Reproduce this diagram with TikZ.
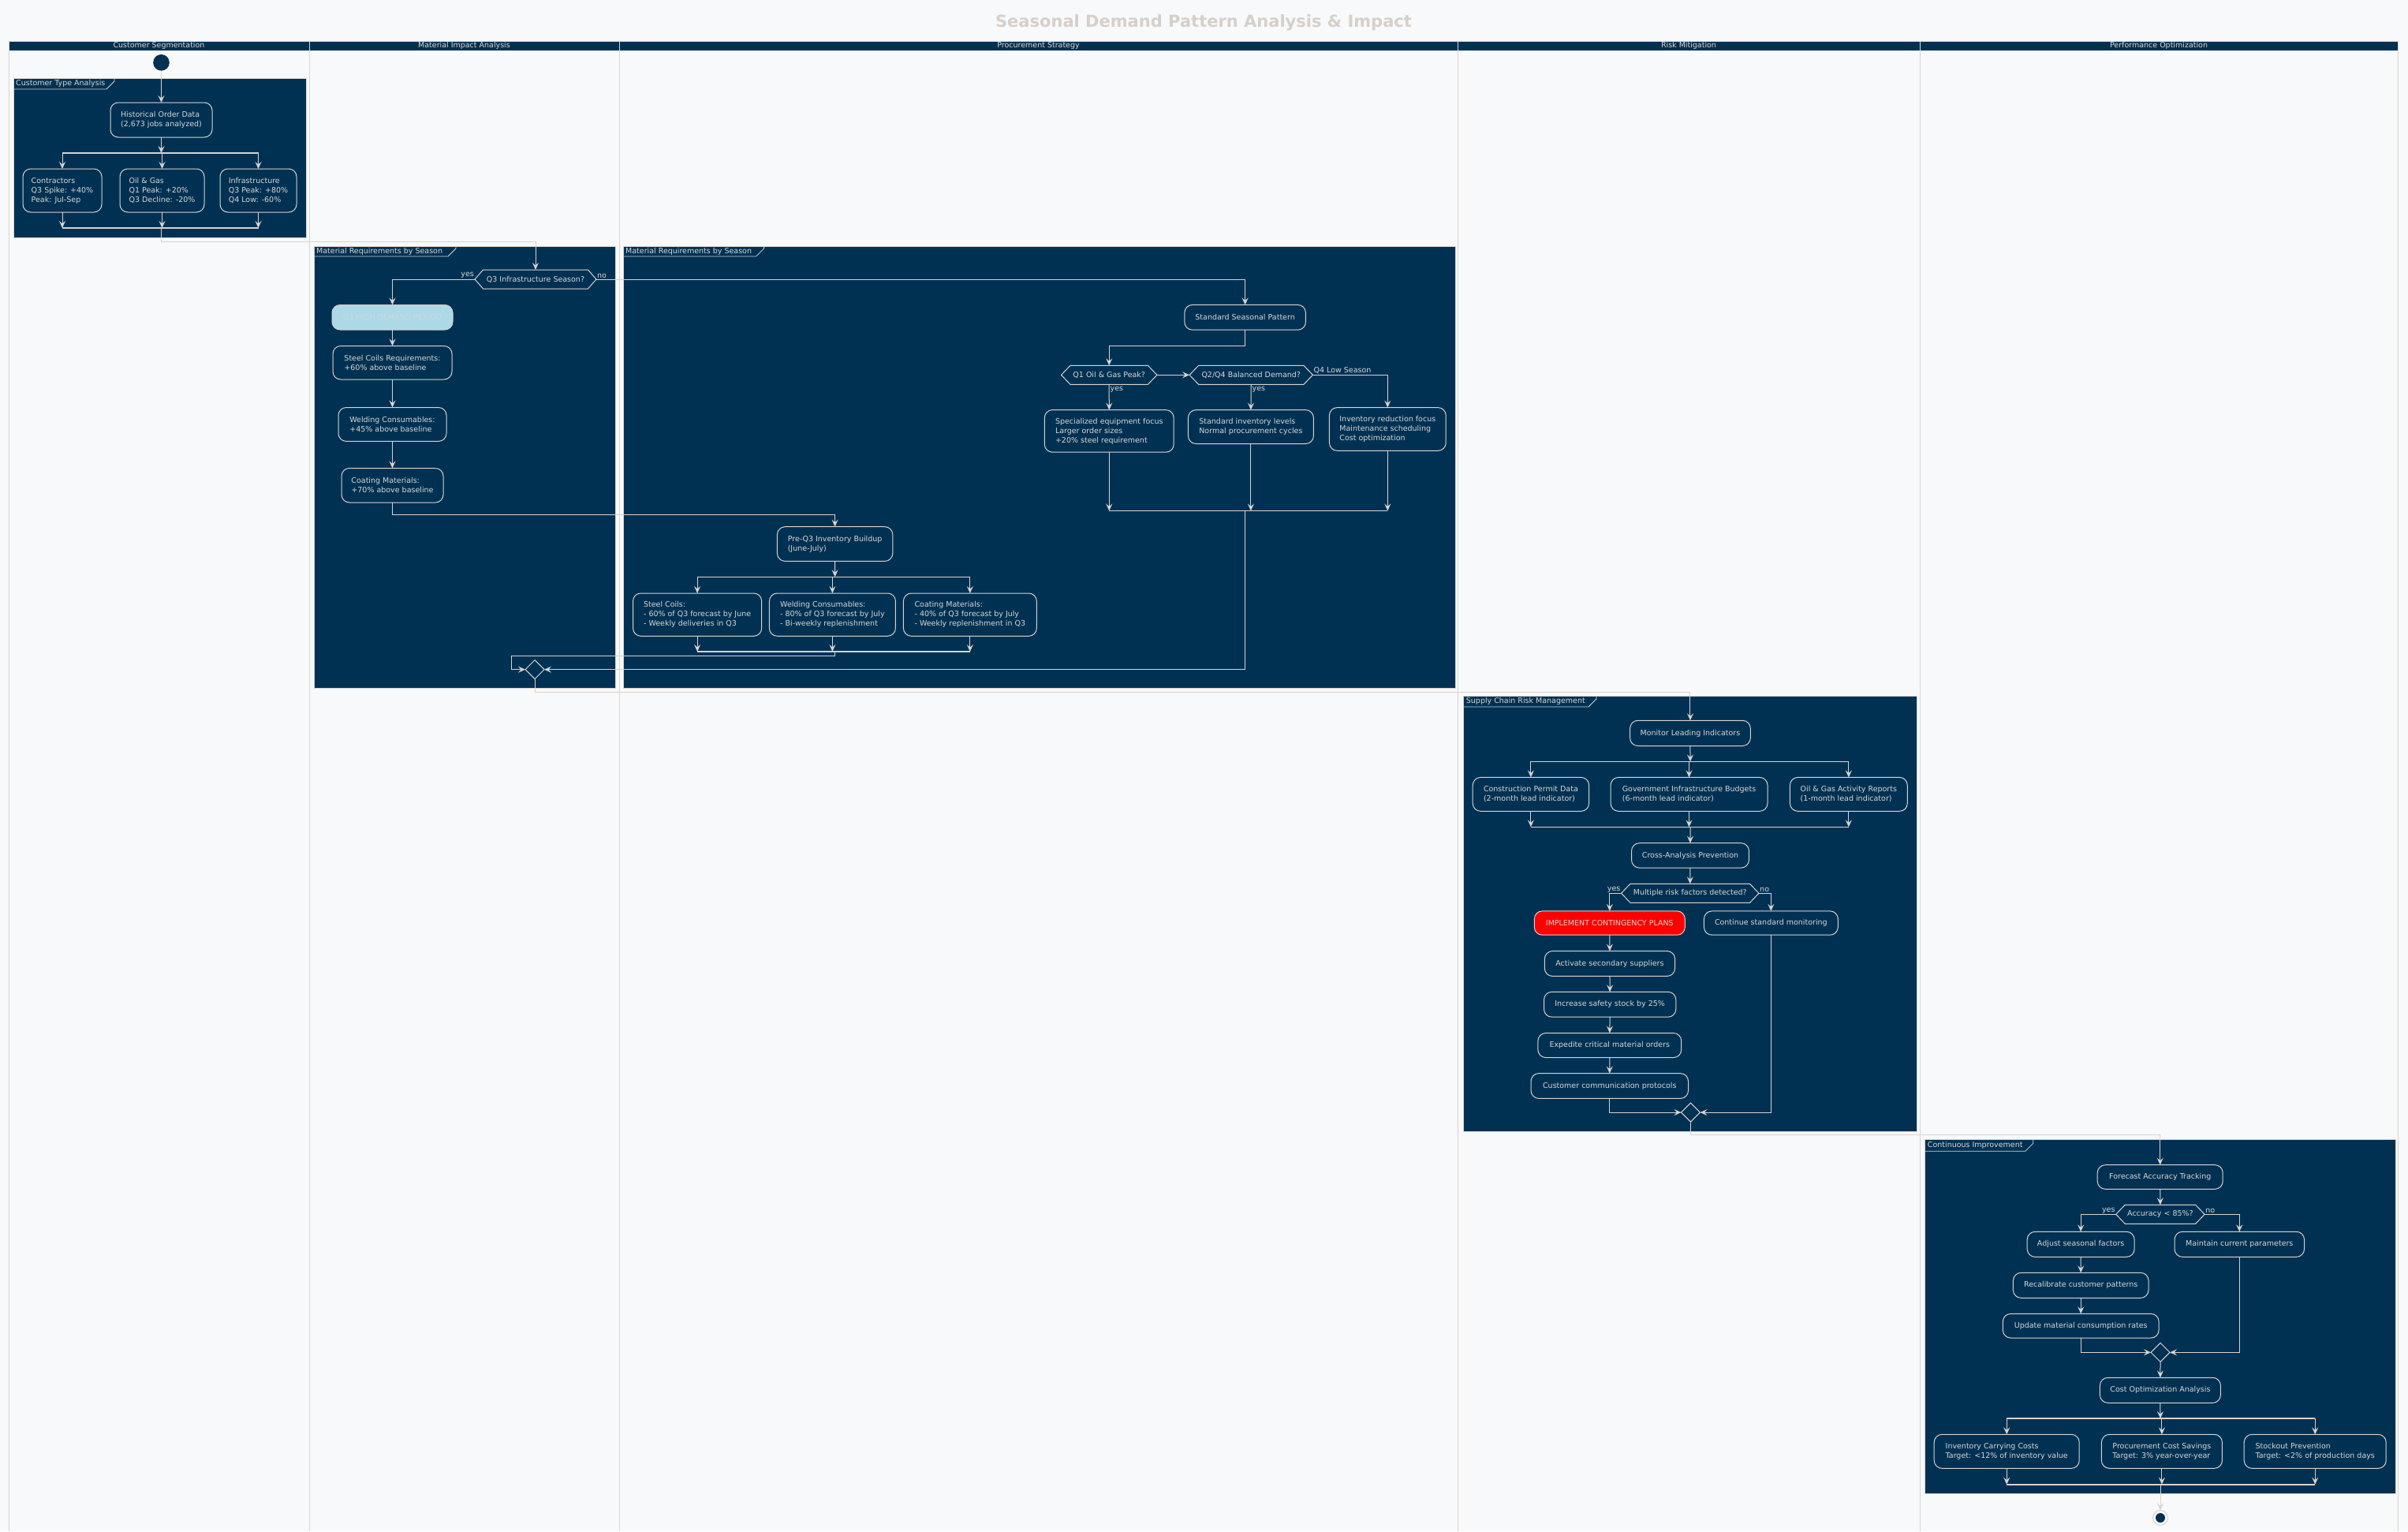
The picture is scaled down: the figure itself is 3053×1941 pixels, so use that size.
\documentclass[tikz,border=0pt]{standalone}
\usepackage{fontspec}
\setmainfont{DejaVu Sans}
\usetikzlibrary{arrows.meta,shapes.geometric,calc}

\definecolor{bgc}{HTML}{F8F9FA}
\definecolor{navy}{HTML}{003153}
\definecolor{linec}{HTML}{D8D3CE}
\definecolor{txtc}{HTML}{D9D6D3}
\definecolor{titlec}{HTML}{D6D0CB}
\definecolor{lanec}{HTML}{D9D5D1}
\definecolor{hiblue}{HTML}{ADD8E6}
\definecolor{hitxt}{HTML}{C6DCE3}
\definecolor{alarm}{HTML}{FF0000}

\newcommand\nodefont{\fontsize{9.5}{12}\selectfont}

\tikzset{
  ln/.style={draw=linec, line width=1pt},
  arr/.style={ln, -{Stealth[length=9pt,width=8pt,inset=3.5pt]}},
  fbar/.style={draw=linec, line width=1.6pt},
  act/.style={draw=linec, line width=1pt, fill=navy, text=txtc, rounded corners=10pt,
              align=left, inner sep=2pt, outer sep=0pt, font=\nodefont},
  dec/.style={inner sep=0pt, outer sep=0pt, text=txtc, font=\nodefont},
  lbl/.style={text=txtc, font=\nodefont, inner sep=1pt},
  mergept/.style={diamond, draw=linec, line width=1pt, fill=navy, minimum size=24pt,
                  inner sep=0pt, outer sep=0pt},
  framebox/.style={draw=linec, line width=0.8pt, fill=navy, inner sep=0pt, outer sep=0pt},
  lanehead/.style={text=txtc, font=\nodefont, inner sep=0pt},
}

% activity box given by its corners: [options]{name}{x1}{y1}{x2}{y2}{text}
\newcommand\actbox[7][]{%
  \node[act, minimum width={#5pt-#3pt}, minimum height={#6pt-#4pt}, #1] (#2)
    at ({(#3+#5)/2},{(#4+#6)/2}) {#7};}

% hexagonal decision: {name}{cx}{cy}{flat width}{tip}{text}
\newcommand\decision[6]{%
  \node[dec, minimum width=#4pt, minimum height=24pt] (#1) at (#2,#3) {#6};
  \draw[ln] (#1.north west) -- (#1.north east) -- ([xshift=#5pt]#1.east)
    -- (#1.south east) -- (#1.south west) -- ([xshift=-#5pt]#1.west) -- cycle;
  \coordinate (#1-l) at ([xshift=-#5pt]#1.west);
  \coordinate (#1-r) at ([xshift=#5pt]#1.east);}

% partition frame with a name tab: {name}{x1}{y1}{x2}{y2}{tab x}{tab y}{label}
\newcommand\partframe[8]{%
  \node[framebox, minimum width={#4pt-#2pt}, minimum height={#5pt-#3pt}] (#1)
    at ({(#2+#4)/2},{(#3+#5)/2}) {};
  \draw[draw=linec, line width=0.8pt] (#2,#7) -- ({#6-10},#7) -- (#6,{#7-10}) -- (#6,#3);
  \node[lbl, anchor=west] (#1-title) at ({#2+2},{(#3+#7)/2}) {#8};}

\begin{document}
\begin{tikzpicture}[x=1pt, y=-1pt]
\useasboundingbox (0,0) rectangle (3053,1941);
\fill[bgc] (0,0) rectangle (3053,1941);

% title
\node[font=\fontsize{21}{25}\selectfont\bfseries, text=titlec] (title) at (1526,29)
  {Seasonal Demand Pattern Analysis \& Impact};

% swimlanes
\fill[navy] (11,52) rectangle (3040,64);
\draw[lanec, line width=1pt] (11,52) -- (3040,52);
\foreach \lx in {11,392,785,1848,2434,3040}
  \draw[lanec, line width=1pt] (\lx,52) -- (\lx,1941);
\node[lanehead] (lane1) at (201.5,58) {Customer Segmentation};
\node[lanehead] (lane2) at (588.5,58) {Material Impact Analysis};
\node[lanehead] (lane3) at (1316.5,58) {Procurement Strategy};
\node[lanehead] (lane4) at (2141,58) {Risk Mitigation};
\node[lanehead] (lane5) at (2737,58) {Performance Optimization};

% partition frames
\partframe{fcust}{17}{99}{388}{301}{145}{113}{Customer Type Analysis}
\partframe{fmat}{398}{312}{780}{872.5}{578}{325}{Material Requirements by Season}
\partframe{fproc}{790}{312}{1845}{872.5}{968.6}{325}{Material Requirements by Season}
\partframe{frisk}{1855.7}{882.2}{2430.6}{1434.2}{2024}{896}{Supply Chain Risk Management}
\partframe{fperf}{2440.7}{1444.7}{3037}{1893.3}{2577.8}{1459.3}{Continuous Improvement}

% routing rows
\coordinate (r1) at (0,306);
\coordinate (r2) at (0,652.4);
\coordinate (r3) at (0,438);
\coordinate (r5) at (0,877.5);
\coordinate (r6) at (0,1438.8);
\coordinate (k1) at (648,831.5);

% ---------- Customer Segmentation ----------
\node[circle, fill=navy, minimum size=20.6pt, inner sep=0pt, outer sep=0pt] (start) at (204.5,79.3) {};
\actbox{hist}{140}{130}{269}{174}{Historical Order Data\\(2,673 jobs analyzed)}
\coordinate (fk1) at (204.5,194);
\actbox{contr}{29}{214}{129}{269}{Contractors\\Q3 Spike: +40\%\\Peak: Jul-Sep}
\actbox{oilgas}{152}{214}{259}{269}{Oil \& Gas\\Q1 Peak: +20\%\\Q3 Decline: -20\%}
\actbox{infra}{279}{214}{376}{269}{Infrastructure\\Q3 Peak: +80\%\\Q4 Low: -60\%}
\coordinate (jn1) at (204.5,289);

\draw[arr] (start.south) -- (hist.north);
\draw[arr] (hist.south) -- (fk1);
\draw[fbar] (contr.north |- fk1) -- (infra.north |- fk1);
\foreach \n in {contr,oilgas,infra}{
  \draw[arr] (\n.north |- fk1) -- (\n.north);
  \draw[arr] (\n.south) -- (\n.south |- jn1);
}
\draw[fbar] (contr.south |- jn1) -- (infra.south |- jn1);

% ---------- Material Impact Analysis ----------
\decision{q3dec}{679}{354}{133}{10.5}{Q3 Infrastructure Season?}
\node[lbl, anchor=south east] (q3yes) at (q3dec-l) {yes};
\node[lbl, anchor=south west] (q3no) at (q3dec-r) {no};
\draw[arr] (jn1) -- (jn1 |- r1) -- (q3dec.north |- r1) -- (q3dec.north);

\actbox[fill=hiblue, text=hitxt]{q3hi}{421}{386.5}{574}{418}{Q3 HIGH DEMAND PERIOD}
\actbox{steelreq}{422}{438.5}{573}{481}{Steel Coils Requirements:\\+60\% above baseline}
\actbox{weldreq}{429}{516.5}{566}{559.4}{Welding Consumables:\\+45\% above baseline}
\actbox{coatreq}{433}{593.5}{562}{637}{Coating Materials:\\+70\% above baseline}

\draw[arr] (q3dec-l) -- (q3hi.north |- q3dec-l) -- (q3hi.north);
\draw[arr] (q3hi.south) -- (steelreq.north);
\draw[arr] (steelreq.south) -- (weldreq.north);
\draw[arr] (weldreq.south) -- (coatreq.north);

\node[mergept] (m1) at (678,848.7) {};

% ---------- Procurement Strategy ----------
\actbox{ssp}{1501.8}{386.4}{1655.4}{418.2}{Standard Seasonal Pattern}
\draw[arr] (q3dec-r) -- (ssp.north |- q3dec-r) -- (ssp.north);

\decision{q1dec}{1406.2}{475.3}{98.4}{11.5}{Q1 Oil \& Gas Peak?}
\decision{q2dec}{1586.25}{475.3}{133.3}{11.5}{Q2/Q4 Balanced Demand?}
\actbox{spec}{1324.3}{519.6}{1488.2}{573.2}{Specialized equipment focus\\Larger order sizes\\+20\% steel requirement}
\actbox{stdinv}{1506.4}{519.6}{1665.4}{562.5}{Standard inventory levels\\Normal procurement cycles}
\actbox{invred}{1685.4}{516.6}{1833.2}{571.3}{Inventory reduction focus\\Maintenance scheduling\\Cost optimization}

\draw[arr] (ssp.south) -- (ssp.south |- r3) -- (q1dec.north |- r3) -- (q1dec.north);
\draw[arr] (q1dec-r) -- (q2dec-l);
\node[lbl, anchor=south west] (q4low) at (q2dec-r) {Q4 Low Season};
\draw[arr] (q2dec-r) -- (invred.north |- q2dec-r) -- (invred.north);
\draw[arr] (q1dec.south) -- node[lbl, pos=0.2, anchor=west] (q1yes) {yes} (spec.north);
\draw[arr] (q2dec.south) -- node[lbl, pos=0.2, anchor=west] (q2yes) {yes} (stdinv.north);

\coordinate (jn3) at (1578.6,647.5);
\foreach \n in {spec,stdinv,invred}
  \draw[arr] (\n.south) -- (\n.south |- jn3);
\draw[fbar] (spec.south |- jn3) -- (invred.south |- jn3);
\draw[arr] (jn3) -- (jn3 |- m1) -- (m1.east);

\actbox{preq3}{985.4}{667.7}{1131.8}{711.4}{Pre-Q3 Inventory Buildup\\(June-July)}
\draw[arr] (coatreq.south) -- (coatreq.south |- r2) -- (preq3.north |- r2) -- (preq3.north);

\coordinate (fk4) at (1058.6,731.3);
\actbox{steelc}{802.5}{752}{965.7}{806.3}{Steel Coils:\\- 60\% of Q3 forecast by June\\- Weekly deliveries in Q3}
\actbox{weldc}{975.4}{752}{1135.4}{806.3}{Welding Consumables:\\- 80\% of Q3 forecast by July\\- Bi-weekly replenishment}
\actbox{coatc}{1145.4}{752}{1314.3}{806.3}{Coating Materials:\\- 40\% of Q3 forecast by July\\- Weekly replenishment in Q3}
\coordinate (jn4) at (1058.6,826);

\draw[arr] (preq3.south) -- (fk4);
\draw[fbar] (steelc.north |- fk4) -- (coatc.north |- fk4);
\foreach \n in {steelc,weldc,coatc}{
  \draw[arr] (\n.north |- fk4) -- (\n.north);
  \draw[arr] (\n.south) -- (\n.south |- jn4);
}
\draw[fbar] (steelc.south |- jn4) -- (coatc.south |- jn4);
\draw[arr] (jn4) -- (jn4 |- k1) -- (k1) -- (k1 |- m1) -- (m1.west);

% ---------- Risk Mitigation ----------
\actbox{monitor}{2066.6}{913.3}{2219.3}{945.5}{Monitor Leading Indicators}
\draw[arr] (m1.south) -- (m1.south |- r5) -- (monitor.north |- r5) -- (monitor.north);

\coordinate (fk5) at (2143,965.4);
\actbox{cpd}{1867.2}{985.4}{2014.6}{1028.3}{Construction Permit Data\\(2-month lead indicator)}
\actbox{gib}{2042}{985.4}{2241}{1028.3}{Government Infrastructure Budgets\\(6-month lead indicator)}
\actbox{ogar}{2269.4}{985.4}{2418.3}{1028.3}{Oil \& Gas Activity Reports\\(1-month lead indicator)}
\coordinate (jn5) at (2143,1048.3);

\draw[arr] (monitor.south) -- (fk5);
\draw[fbar] (cpd.north |- fk5) -- (ogar.north |- fk5);
\foreach \n in {cpd,gib,ogar}{
  \draw[arr] (\n.north |- fk5) -- (\n.north);
  \draw[arr] (\n.south) -- (\n.south |- jn5);
}
\draw[fbar] (cpd.south |- jn5) -- (ogar.south |- jn5);

\actbox{cross}{2068.5}{1068.7}{2217.4}{1100.1}{Cross-Analysis Prevention}
\draw[arr] (jn5) -- (cross.north);

\decision{d3}{2142.75}{1132.3}{151.5}{11.5}{Multiple risk factors detected?}
\draw[arr] (cross.south) -- (d3.north);
\node[lbl, anchor=south east] (d3yes) at (d3-l) {yes};
\node[lbl, anchor=south west] (d3no) at (d3-r) {no};

\actbox[fill=alarm]{impl}{1945.3}{1154.9}{2136.3}{1185.2}{IMPLEMENT CONTINGENCY PLANS}
\actbox{cont}{2160.4}{1154.9}{2330.3}{1185.2}{Continue standard monitoring}
\actbox{act2}{1958.3}{1205.6}{2123.6}{1237.4}{Activate secondary suppliers}
\actbox{inc}{1957.5}{1257.3}{2124.8}{1289.2}{Increase safety stock by 25\%}
\actbox{expd}{1949.9}{1309.5}{2131.7}{1340.6}{Expedite critical material orders}
\actbox{comm}{1941}{1360.6}{2140.5}{1392.4}{Customer communication protocols}
\node[mergept] (m2) at (2143.5,1410.1) {};

\draw[arr] (d3-l) -- (impl.north |- d3-l) -- (impl.north);
\draw[arr] (d3-r) -- (cont.north |- d3-r) -- (cont.north);
\draw[arr] (impl.south) -- (act2.north);
\draw[arr] (act2.south) -- (inc.north);
\draw[arr] (inc.south) -- (expd.north);
\draw[arr] (expd.south) -- (comm.north);
\draw[arr] (comm.south) -- (comm.south |- m2) -- (m2.west);
\draw[arr] (cont.south) -- (cont.south |- m2) -- (m2.east);

% ---------- Performance Optimization ----------
\actbox{fat}{2659.2}{1476.7}{2818.2}{1507.3}{Forecast Accuracy Tracking}
\draw[arr] (m2.south) -- (m2.south |- r6) -- (fat.north |- r6) -- (fat.north);

\decision{d4}{2738.9}{1539.3}{89.4}{11.5}{Accuracy < 85\%?}
\draw[arr] (fat.south) -- (d4.north);
\node[lbl, anchor=south east] (d4yes) at (d4-l) {yes};
\node[lbl, anchor=south west] (d4no) at (d4-r) {no};

\actbox{adj}{2570.2}{1561.3}{2706.1}{1593.3}{Adjust seasonal factors}
\actbox{maint}{2757}{1561.3}{2921.5}{1593.3}{Maintain current parameters}
\actbox{recal}{2552.4}{1613.3}{2724}{1645.3}{Recalibrate customer patterns}
\actbox{upd}{2539.3}{1665.3}{2737.1}{1696}{Update material consumption rates}
\node[mergept] (m3) at (2739,1714.3) {};

\draw[arr] (d4-l) -- (adj.north |- d4-l) -- (adj.north);
\draw[arr] (d4-r) -- (maint.north |- d4-r) -- (maint.north);
\draw[arr] (adj.south) -- (recal.north);
\draw[arr] (recal.south) -- (upd.north);
\draw[arr] (upd.south) -- (upd.south |- m3) -- (m3.west);
\draw[arr] (maint.south) -- (maint.south |- m3) -- (m3.east);

\actbox{coa}{2662.4}{1746.3}{2815.4}{1778.3}{Cost Optimization Analysis}
\draw[arr] (m3.south) -- (coa.north);

\coordinate (fk6) at (2739,1798);
\actbox{icc}{2452.2}{1818.3}{2636.2}{1861.3}{Inventory Carrying Costs\\Target: <12\% of inventory value}
\actbox{pcs}{2664.4}{1818.3}{2817.4}{1861.3}{Procurement Cost Savings\\Target: 3\% year-over-year}
\actbox{spv}{2845.2}{1818.3}{3025.2}{1861.3}{Stockout Prevention\\Target: <2\% of production days}
\coordinate (jn6) at (2739,1881.7);

\draw[arr] (coa.south) -- (fk6);
\draw[fbar] (icc.north |- fk6) -- (spv.north |- fk6);
\foreach \n in {icc,pcs,spv}{
  \draw[arr] (\n.north |- fk6) -- (\n.north);
  \draw[arr] (\n.south) -- (\n.south |- jn6);
}
\draw[fbar] (icc.south |- jn6) -- (spv.south |- jn6);

\node[circle, draw=linec, line width=1pt, fill=bgc, minimum size=19pt, inner sep=0pt, outer sep=0pt] (endc) at (2739,1924) {};
\node[circle, fill=navy, minimum size=12pt, inner sep=0pt] (enddot) at (endc.center) {};
\draw[arr] (jn6) -- (endc.north);
\end{tikzpicture}
\end{document}
